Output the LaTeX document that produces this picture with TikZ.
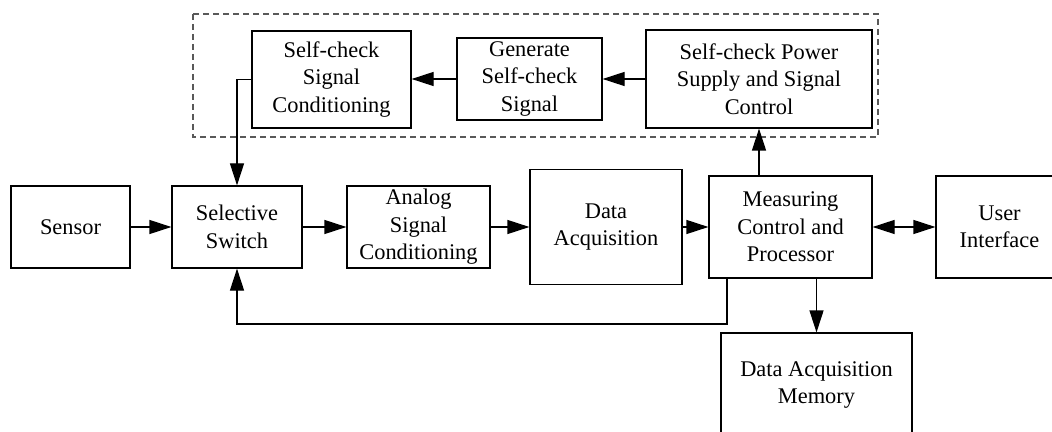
\documentclass[tikz,border=0pt]{standalone}
\usepackage{fontspec}
\setmainfont{Liberation Serif}
\usetikzlibrary{arrows.meta}

\tikzset{
  block/.style={draw, line width=0.6pt, align=center, inner sep=0pt,
    font=\fontsize{11.2}{13.7}\selectfont},
  flow/.style={line width=0.6pt, -{Triangle[length=11pt, width=7pt]}},
  twoway/.style={line width=0.6pt, {Triangle[length=11pt, width=7pt]}-{Triangle[length=11pt, width=7pt]}},
  group/.style={draw=gray!70!black, line width=0.6pt, dash pattern=on 3pt off 2pt}
}

\begin{document}
\begin{tikzpicture}
\path[use as bounding box, clip] (0pt, 0pt) rectangle (526pt, -216pt);

% self-check branch
\draw[group] (96.5pt, -7pt) rectangle (439pt, -68.5pt);
\node[block, minimum width=79.5pt, minimum height=48.5pt] (sccond) at (165.75pt, -39.75pt) {Self-check\\Signal\\Conditioning};
\node[block, minimum width=72.5pt, minimum height=41pt] (gen) at (264.75pt, -39.5pt) {Generate\\Self-check\\Signal};
\node[block, minimum width=113pt, minimum height=49pt] (power) at (379.5pt, -39.5pt) {Self-check Power\\Supply and Signal\\Control};

% main signal chain
\node[block, minimum width=59.5pt, minimum height=41pt] (sensor) at (35.25pt, -113.5pt) {Sensor};
\node[block, minimum width=65pt, minimum height=41pt] (switch) at (118.5pt, -113.5pt) {Selective\\Switch};
\node[block, minimum width=71.5pt, minimum height=41pt] (analog) at (209.25pt, -113.5pt) {Analog\\Signal\\Conditioning};
\node[block, minimum width=76pt, minimum height=57.5pt] (acq) at (303pt, -113.5pt) {Data\\Acquisition};
\node[block, minimum width=81.5pt, minimum height=51pt] (mcp) at (395.25pt, -113.5pt) {Measuring\\Control and\\Processor};
\node[block, minimum width=63.5pt, minimum height=51pt] (ui) at (499.75pt, -113.5pt) {User\\Interface};
\node[block, minimum width=95.5pt, minimum height=52pt] (mem) at (408.25pt, -192.5pt) {Data Acquisition\\Memory};

\coordinate (fb) at (363.5pt, -162pt);

\draw[flow] (sensor) -- (switch);
\draw[flow] (switch) -- (analog);
\draw[flow] (analog) -- (acq);
\draw[flow] (acq) -- (mcp);
\draw[twoway] (mcp) -- (ui);
\draw[flow] (mcp.north -| power.south) -- (power.south);
\draw[flow] (power) -- (gen.east |- power.west);
\draw[flow] (gen) -- (sccond.east |- gen.west);
\draw[flow] (sccond.west) -| (switch.north);
\draw[flow] (mcp.south -| mem.north) -- (mem.north);
\draw[flow] (fb |- mcp.south) -- (fb) -| (switch.south);
\end{tikzpicture}
\end{document}
